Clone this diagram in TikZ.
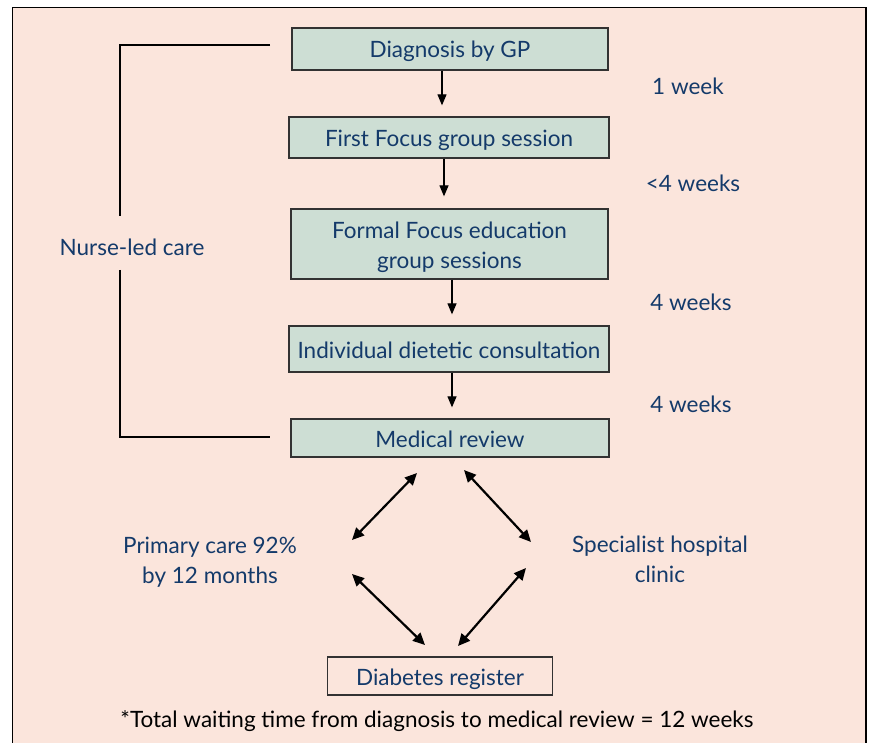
\documentclass[tikz,border=0pt]{standalone}
\usepackage{fontspec}
\setmainfont{Lato}
\usetikzlibrary{arrows.meta}
\definecolor{bgpink}{RGB}{251,229,220}
\definecolor{boxgreen}{RGB}{205,222,212}
\definecolor{navy}{RGB}{20,58,106}
\definecolor{edgegrey}{RGB}{50,50,50}
\tikzset{
  txt/.style={font=\fontsize{22.5}{30}\selectfont, text height=18pt, text depth=0pt},
  twoline/.style={text height=50pt, text depth=0pt},
  stepbox/.style={txt, draw=edgegrey, line width=1.3pt, fill=boxgreen, text=navy, align=center, inner sep=0pt},
  regbox/.style={txt, draw=edgegrey, line width=1.1pt, fill=bgpink, text=navy, inner sep=0pt},
  lbl/.style={txt, text=navy, align=center, inner sep=0pt},
  varr/.style={draw=black, line width=1.2pt, -{Triangle[length=11pt,width=9pt]}},
  darr/.style={draw=black, line width=2.2pt, {Triangle[length=12pt,width=11pt]}-{Triangle[length=12pt,width=11pt]}},
  brk/.style={draw=black, line width=1.4pt}
}
\begin{document}
\begin{tikzpicture}[x=1pt,y=-1pt]
\useasboundingbox (0,0) rectangle (870,743);
\fill[white] (0,0) rectangle (870,743);
\draw[fill=bgpink, draw=black, line width=1.4pt] (12.5,7.5) rectangle (866,760);

\node[stepbox, minimum width=316pt, minimum height=42pt] (diag) at (450,49) {Diagnosis by GP};
\node[stepbox, minimum width=320pt, minimum height=41pt] (first) at (449,137.5) {First Focus group session};
\node[stepbox, twoline, minimum width=317pt, minimum height=70pt] (formal) at (449.5,244) {Formal Focus education\\group sessions};
\node[stepbox, minimum width=320pt, minimum height=46pt] (indiv) at (449,349) {Individual dietetic consultation};
\node[stepbox, minimum width=318pt, minimum height=38pt] (med) at (450,438) {Medical review};
\node[regbox, minimum width=225pt, minimum height=38pt] (reg) at (440,676) {Diabetes register};

\node[lbl] (w1) at (688,86) {1 week};
\node[lbl] (w2) at (693,183) {<4 weeks};
\node[lbl] (w3) at (691,301) {4 weeks};
\node[lbl] (w4) at (691,403) {4 weeks};

\node[lbl] (nurse) at (132,247) {Nurse-led care};
\node[lbl, twoline] (prim) at (210,558) {Primary care 92\%\\by 12 months};
\node[lbl, twoline] (spec) at (660,557) {Specialist hospital\\clinic};
\node[txt, text=black, inner sep=0pt] (note) at (437,718) {*Total waiting time from diagnosis to medical review = 12 weeks};

% vertical arrows
\draw[varr, shorten >=11pt] (diag.south -| 442,0) -- (first.north -| 442,0);
\draw[varr, shorten >=12pt] (first.south -| 444,0) -- (formal.north -| 444,0);
\draw[varr, shorten >=11pt] (formal.south -| 452,0) -- (indiv.north -| 452,0);
\draw[varr, shorten >=11pt] (indiv.south -| 452,0) -- (med.north -| 452,0);

% bracket
\coordinate (bt) at (120,45);
\coordinate (bte) at (270,45);
\coordinate (bb) at (120,437);
\coordinate (bbe) at (270,437);
\draw[brk] (bte) -- (bt) -- (bt |- 0,216);
\draw[brk] (bb |- 0,270) -- (bb) -- (bbe);

% diamond arrows
\coordinate (ul1) at (352,540); \coordinate (ul2) at (417,473);
\coordinate (ur1) at (464,470); \coordinate (ur2) at (531,542);
\coordinate (ll1) at (352,574); \coordinate (ll2) at (425,645);
\coordinate (lr1) at (526,568); \coordinate (lr2) at (458,646);
\draw[darr] (ul1) -- (ul2);
\draw[darr] (ur1) -- (ur2);
\draw[darr] (ll1) -- (ll2);
\draw[darr] (lr1) -- (lr2);
\end{tikzpicture}
\end{document}
